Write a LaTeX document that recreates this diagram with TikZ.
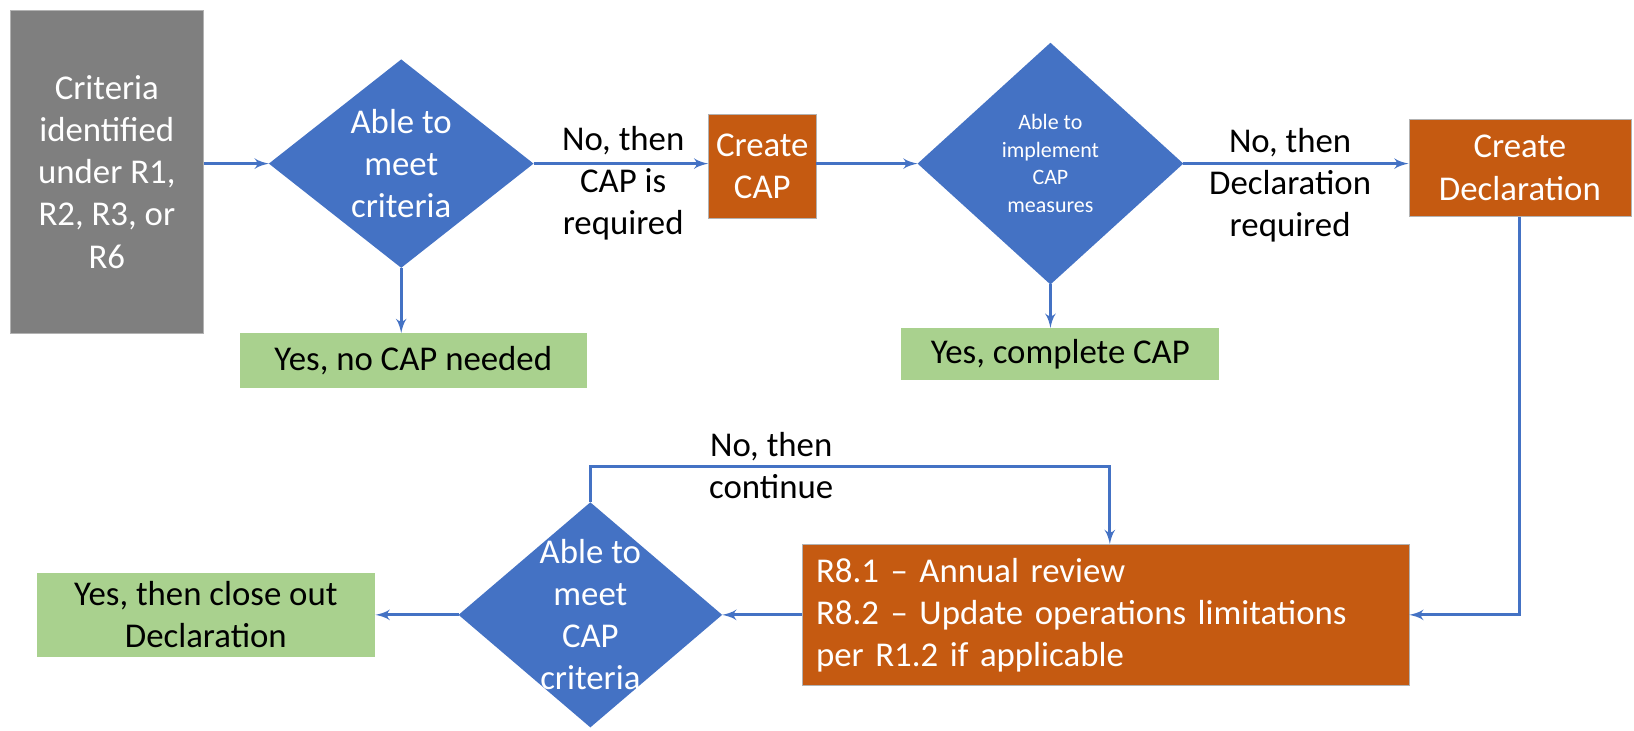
\documentclass[tikz,border=0pt]{standalone}
\usepackage{fontspec}
\setmainfont{Carlito}
\usetikzlibrary{shapes.geometric, arrows}

\definecolor{capblue}{HTML}{4472C4}
\definecolor{caporange}{HTML}{C55A11}
\definecolor{capgreen}{HTML}{A9D18E}
\definecolor{capgray}{HTML}{7F7F7F}

\begin{document}
\begin{tikzpicture}[x=0.02cm, y=-0.02cm]

\tikzset{box/.style = {shape=rectangle, inner sep=0pt, align=center, font=\fontsize{19}{23}\selectfont}}
\tikzset{graybox/.style = {box, fill=capgray, draw=gray!60, thin, text=white}}
\tikzset{orangebox/.style = {box, fill=caporange, draw=gray!60, thin, text=white}}
\tikzset{greenbox/.style = {box, fill=capgreen, text=black}}
\tikzset{decision/.style = {shape=diamond, fill=capblue, inner sep=0pt, outer sep=0pt}}
\tikzset{dtext/.style = {text=white, align=center, font=\fontsize{19}{23}\selectfont}}
\tikzset{note/.style = {align=center, font=\fontsize{19}{23}\selectfont}}
\tikzset{edge/.style = {->, > = latex', draw=capblue, line width=1.7pt}}

\useasboundingbox (0,0) rectangle (1568,701);

%boxes
\node[graybox, minimum width=3.7cm, minimum height=6.2cm] (crit) at (102.5,165) {Criteria\\identified\\under R1,\\R2, R3, or\\R6};
\node[decision, minimum width=5.08cm, minimum height=4cm,
  label={[dtext]center:Able to\\meet\\criteria}] (dmeet) at (385,157) {};
\node[greenbox, minimum width=6.66cm, minimum height=1.04cm] (nocap) at (396.5,346) {Yes, no CAP needed};
\node[orangebox, minimum width=2.06cm, minimum height=2cm] (mkcap) at (731.5,160) {Create\\CAP};
\node[decision, minimum width=5.1cm, minimum height=4.64cm,
  label={[dtext, font=\fontsize{12}{15}\selectfont]center:Able to\\implement\\CAP\\measures}] (dimpl) at (1008,157) {};
\node[greenbox, minimum width=6.1cm, minimum height=1cm] (yescap) at (1017.5,340) {Yes, complete CAP};
\node[orangebox, minimum width=4.26cm, minimum height=1.86cm] (mkdecl) at (1458.5,161) {Create\\Declaration};
\node[orangebox, minimum height=2.7cm, inner xsep=0.26cm, text width=11.12cm, align=left] (review) at (1061,590)
  {R8.1 -- Annual review\\R8.2 -- Update operations limitations\\per R1.2 if applicable};
\node[decision, minimum width=5.06cm, minimum height=4.32cm,
  label={[dtext]center:Able to\\meet\\CAP\\criteria}] (dcrit) at (566.5,590) {};
\node[greenbox, minimum width=6.5cm, minimum height=1.6cm] (closeout) at (197.5,590) {Yes, then close out\\Declaration};

%labels
\node[note] (nocapreq) at (598,176) {No, then\\CAP is\\required};
\node[note] (nodeclreq) at (1238,178) {No, then\\Declaration\\required};
\node[note] (nocont) at (740,447) {No, then\\continue};
\coordinate (turn) at (1065,448);

%connectors
\draw[edge] (crit.east |- dmeet.west) -- (dmeet.west);
\draw[edge] (dmeet.south) -- (dmeet.south |- nocap.north);
\draw[edge] (dmeet.east) -- (mkcap.west |- dmeet.east);
\draw[edge] (mkcap.east |- dimpl.west) -- (dimpl.west);
\draw[edge] (dimpl.south) -- (dimpl.south |- yescap.north);
\draw[edge] (dimpl.east) -- (mkdecl.west |- dimpl.east);
\draw[edge] (mkdecl.south) |- (review.east);
\draw[edge] (review.west) -- (dcrit.east);
\draw[edge] (dcrit.west) -- (closeout.east);
\draw[edge] (dcrit.north) |- (turn) -- (turn |- review.north);

\end{tikzpicture}
\end{document}
